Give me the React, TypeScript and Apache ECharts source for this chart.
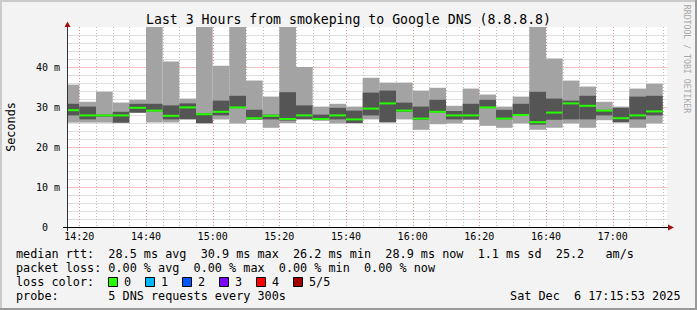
import React, { useEffect, useRef } from 'react';
import * as echarts from 'echarts';

// ---- data (ms) ----
const BAR_TIMES = [
  '14:15', '14:20', '14:25', '14:30', '14:35', '14:40', '14:45', '14:50', '14:55',
  '15:00', '15:05', '15:10', '15:15', '15:20', '15:25', '15:30', '15:35', '15:40',
  '15:45', '15:50', '15:55', '16:00', '16:05', '16:10', '16:15', '16:20', '16:25',
  '16:30', '16:35', '16:40', '16:45', '16:50', '16:55', '17:00', '17:05', '17:10',
];
const MIN_RTT = [
  26.1, 26.1, 26.1, 26.0, 28.5, 26.1, 26.1, 26.8, 25.8,
  26.9, 25.9, 26.8, 24.8, 26.0, 26.8, 26.6, 25.9, 25.9,
  26.9, 26.1, 26.9, 24.3, 25.7, 25.9, 26.8, 25.3, 24.8,
  25.9, 24.3, 24.8, 25.9, 24.8, 26.7, 26.1, 24.8, 25.9,
];
const LOW_RTT = [
  27.9, 26.9, 27.6, 26.1, 28.6, 28.9, 26.9, 27.0, 26.0,
  27.9, 29.7, 26.9, 26.9, 26.6, 27.0, 26.7, 26.9, 26.0,
  27.9, 26.2, 28.8, 26.8, 28.6, 26.9, 26.9, 29.7, 26.9,
  27.8, 25.6, 26.8, 26.9, 26.9, 27.9, 26.2, 26.9, 27.9,
];
const MEDIAN_RTT = [
  29.2, 27.9, 27.9, 27.9, 29.8, 29.1, 27.8, 29.9, 28.2,
  28.8, 29.9, 27.2, 27.8, 27.0, 27.9, 27.0, 27.9, 26.9,
  29.6, 30.9, 29.1, 27.1, 28.8, 27.9, 27.9, 29.9, 27.1,
  28.0, 26.2, 28.6, 30.9, 30.3, 29.1, 27.2, 27.9, 28.9,
];
const HIGH_RTT = [
  30.8, 30.1, 28.1, 28.8, 30.8, 30.8, 30.4, 30.9, 28.5,
  31.6, 32.8, 29.3, 28.1, 33.7, 30.4, 28.1, 29.8, 29.1,
  33.6, 34.1, 31.1, 30.1, 31.8, 29.0, 30.8, 31.8, 29.3,
  30.8, 33.8, 32.1, 31.6, 32.8, 29.3, 29.8, 32.6, 32.8,
];
const MAX_RTT = [
  35.6, 31.3, 33.8, 31.1, 31.8, 50.0, 41.4, 32.1, 50.0,
  40.3, 50.0, 36.6, 32.6, 50.0, 40.0, 30.1, 30.8, 30.1,
  37.3, 36.1, 36.1, 34.1, 34.8, 30.3, 34.6, 33.1, 30.1,
  32.6, 50.0, 42.1, 36.6, 35.1, 31.3, 30.1, 34.6, 35.8,
];

const X_TICK_LABELS = ['14:20', '14:40', '15:00', '15:20', '15:40', '16:00', '16:20', '16:40', '17:00'];
const Y_TICK_VALUES = [10, 20, 30, 40];
const Y_TICK_LABELS = ['0\u00a0\u00a0', '10 m', '20 m', '30 m', '40 m'];

const TITLE = 'Last 3 Hours from smokeping to Google DNS (8.8.8.8)';
const RTT_LINE = 'median rtt:  28.5 ms avg  30.9 ms max  26.2 ms min  28.9 ms now  1.1 ms sd  25.2   am/s';
const LOSS_LINE = 'packet loss: 0.00 % avg  0.00 % max  0.00 % min  0.00 % now';
const LOSS_LABEL = 'loss color:';
const LOSS_NAMES = ['0', '1', '2', '3', '4', '5/5'];
const LOSS_COLORS = ['#26ff00', '#00b8ff', '#0059ff', '#7e00ff', '#ff0000', '#a00000'];
const PROBE_LINE = 'probe:       5 DNS requests every 300s';
const DATE_TEXT = 'Sat Dec  6 17:15:53 2025';
const WATERMARK = 'RRDTOOL / TOBI OETIKER';

// ---- layout / style ----
const W = 697;
const H = 310;
const GRID_LEFT = 67;
const GRID_TOP = 27;
const GRID_W = 600;
const GRID_H = 200;
const X_MIN = 16.3; // minutes after 14:00
const X_MAX = X_MIN + 180;
const STEP = 5;
const Y_MAX = 50;
const MONO = '"DejaVu Sans Mono", monospace';
const MAJOR = '#ee8c8c';
const MINOR = '#bdbdbd';
const MAJOR_SOFT = '#f5c2c2';
const MINOR_SOFT = '#dedede';
const LIGHT = '#a3a3a3';
const DARK = '#555555';
const GREEN = '#26ff00';
const ARROW = '#a01010';
const AXIS = '#333333';
const DASH = [1, 2];

const toMin = (s: string) => {
  const [h, m] = s.split(':').map(Number);
  return (h - 14) * 60 + m;
};
const nb = (s: string) => s.replace(/ /g, '\u00a0');

export default function App() {
  const ref = useRef<HTMLDivElement>(null);

  useEffect(() => {
    if (!ref.current) return;
    const chart = echarts.init(ref.current, undefined, { renderer: 'svg' });

    const barData = BAR_TIMES.map((t, i) => [
      toMin(t), MIN_RTT[i], LOW_RTT[i], MEDIAN_RTT[i], HIGH_RTT[i], MAX_RTT[i],
    ]);
    const tickMinutes = X_TICK_LABELS.map(toMin);

    const vRows: number[][] = [];
    for (let m = Math.ceil(X_MIN / STEP) * STEP; m <= X_MAX; m += STEP) {
      vRows.push([m, tickMinutes.includes(m) ? 1 : 0]);
    }
    vRows.sort((a, b) => a[1] - b[1]);

    const renderBar = (params: any, api: any) => {
      const t = api.value(0);
      const cs = params.coordSys;
      const clip = { x: cs.x, y: cs.y, width: cs.width, height: cs.height };
      const x0 = api.coord([t, 0])[0];
      const x1 = api.coord([t + STEP, 0])[0];
      const band = (lo: number, hi: number, fill: string) => {
        const yt = api.coord([t, hi])[1];
        const yb = api.coord([t, lo])[1];
        const shape = echarts.graphic.clipRectByRect(
          { x: x0, y: yt, width: x1 - x0, height: Math.max(yb - yt, 0.01) },
          clip
        );
        return shape ? { type: 'rect', shape, style: { fill } } : null;
      };
      const ym = api.coord([t, api.value(3)])[1];
      const med = echarts.graphic.clipRectByRect(
        { x: x0, y: ym - 1, width: x1 - x0, height: 2 },
        clip
      );
      const children = [
        band(api.value(1), api.value(5), LIGHT),
        band(api.value(2), api.value(4), DARK),
        med ? { type: 'rect', shape: med, style: { fill: GREEN } } : null,
      ].filter(Boolean);
      return { type: 'group', children };
    };

    const renderVGrid = (params: any, api: any) => {
      const m = api.value(0);
      const major = api.value(1) === 1;
      const top = api.coord([m, Y_MAX]);
      const bot = api.coord([m, 0]);
      const x = Math.round(top[0]) + 0.5;
      return {
        type: 'line',
        shape: { x1: x, y1: top[1], x2: x, y2: bot[1] },
        style: { stroke: major ? MAJOR : MINOR, lineWidth: 1, lineDash: DASH },
      };
    };

    const txt = (text: string, x: number, y: number, extra: any = {}) => ({
      type: 'text',
      x,
      y,
      z: 10,
      style: {
        text,
        fontFamily: MONO,
        fontSize: 11.8,
        fill: '#000',
        align: 'left',
        verticalAlign: 'middle',
        ...extra,
      },
    });

    const gx0 = GRID_LEFT + 0.5;
    const gyb = GRID_TOP + GRID_H + 0.5;
    const graphics: any[] = [
      // frame
      { type: 'line', z: 10, shape: { x1: 0, y1: 1, x2: W, y2: 1 }, style: { stroke: '#cbcbcb', lineWidth: 2 } },
      { type: 'line', z: 10, shape: { x1: 1, y1: 0, x2: 1, y2: H }, style: { stroke: '#cbcbcb', lineWidth: 2 } },
      { type: 'line', z: 10, shape: { x1: 0, y1: H - 1, x2: W, y2: H - 1 }, style: { stroke: '#999999', lineWidth: 2 } },
      { type: 'line', z: 10, shape: { x1: W - 1, y1: 0, x2: W - 1, y2: H }, style: { stroke: '#999999', lineWidth: 2 } },
      // axes
      { type: 'line', z: 10, shape: { x1: gx0, y1: GRID_TOP - 1, x2: gx0, y2: GRID_TOP + GRID_H + 4 }, style: { stroke: AXIS, lineWidth: 1 } },
      { type: 'line', z: 10, shape: { x1: GRID_LEFT - 4, y1: gyb, x2: GRID_LEFT + GRID_W + 2, y2: gyb }, style: { stroke: '#000', lineWidth: 1 } },
      // arrows
      {
        type: 'polygon', z: 11,
        shape: { points: [[GRID_LEFT - 2.5, GRID_TOP], [GRID_LEFT + 3.5, GRID_TOP], [gx0, GRID_TOP - 5.5]] },
        style: { fill: ARROW },
      },
      {
        type: 'polygon', z: 11,
        shape: { points: [[GRID_LEFT + GRID_W + 1, gyb - 3], [GRID_LEFT + GRID_W + 1, gyb + 3], [GRID_LEFT + GRID_W + 7, gyb]] },
        style: { fill: ARROW },
      },
      // title
      txt(TITLE, W / 2, 19, { fontSize: 13.2, align: 'center' }),
      // y axis name
      { ...txt('Seconds', 10.5, 127, { align: 'center' }), rotation: Math.PI / 2 },
      // watermark
      { ...txt(WATERMARK, 687, 59, { align: 'center', fontSize: 8.2, fill: '#a8a8a8' }), rotation: -Math.PI / 2 },
      // legend lines
      txt(nb(RTT_LINE), 16, 254.3),
      txt(nb(LOSS_LINE), 16, 267.8),
      txt(nb(LOSS_LABEL), 16, 282.3),
      txt(nb(PROBE_LINE), 16, 296.2),
      txt(nb(DATE_TEXT), 680.5, 296.2, { align: 'right' }),
    ];
    LOSS_NAMES.forEach((name, i) => {
      graphics.push({
        type: 'rect', z: 10,
        shape: { x: 108.5 + i * 37, y: 277.5, width: 9, height: 9 },
        style: { fill: LOSS_COLORS[i], stroke: '#000', lineWidth: 1 },
      });
      graphics.push(txt(name, 124 + i * 37, 282.3));
    });

    chart.setOption({
      animation: false,
      backgroundColor: '#f3f3f3',
      grid: {
        left: GRID_LEFT,
        top: GRID_TOP,
        width: GRID_W,
        height: GRID_H,
        show: true,
        backgroundColor: '#ffffff',
        borderWidth: 0,
        z: 0,
      },
      xAxis: {
        type: 'value',
        min: X_MIN,
        max: X_MAX,
        axisLine: { show: false },
        axisTick: { show: false },
        splitLine: { show: false },
        axisLabel: {
          customValues: tickMinutes,
          formatter: (v: number) => {
            const idx = tickMinutes.indexOf(Math.round(v));
            return idx >= 0 ? X_TICK_LABELS[idx] : '';
          },
          fontFamily: MONO,
          fontSize: 10,
          color: '#000',
          margin: 4,
        },
      },
      yAxis: {
        type: 'value',
        min: 0,
        max: Y_MAX,
        interval: 10,
        z: 1,
        axisLine: { show: false },
        axisTick: { show: false },
        axisLabel: {
          formatter: (v: number) => Y_TICK_LABELS[Math.round(v / 10)] ?? '',
          fontFamily: MONO,
          fontSize: 10,
          color: '#000',
          margin: 7,
        },
        splitLine: {
          show: true,
          showMinLine: false,
          showMaxLine: false,
          lineStyle: { color: MAJOR_SOFT, width: 1, type: 'solid' },
        },
        minorTick: { show: false, splitNumber: 5 },
        minorSplitLine: { show: true, lineStyle: { color: MINOR_SOFT, width: 1, type: 'solid' } },
      },
      graphic: graphics,
      series: [
        {
          type: 'custom',
          name: 'vgrid',
          z: 3,
          silent: true,
          data: vRows,
          encode: { x: 0 },
          renderItem: renderVGrid,
        },
        {
          type: 'custom',
          name: 'smoke',
          z: 4,
          silent: true,
          data: barData,
          encode: { x: 0, y: [1, 2, 3, 4, 5] },
          renderItem: renderBar,
        },
      ],
    });

    return () => chart.dispose();
  }, []);

  return (
    <div
      ref={ref}
      style={{ position: 'fixed', left: 0, top: 0, width: W, height: H }}
    />
  );
}
